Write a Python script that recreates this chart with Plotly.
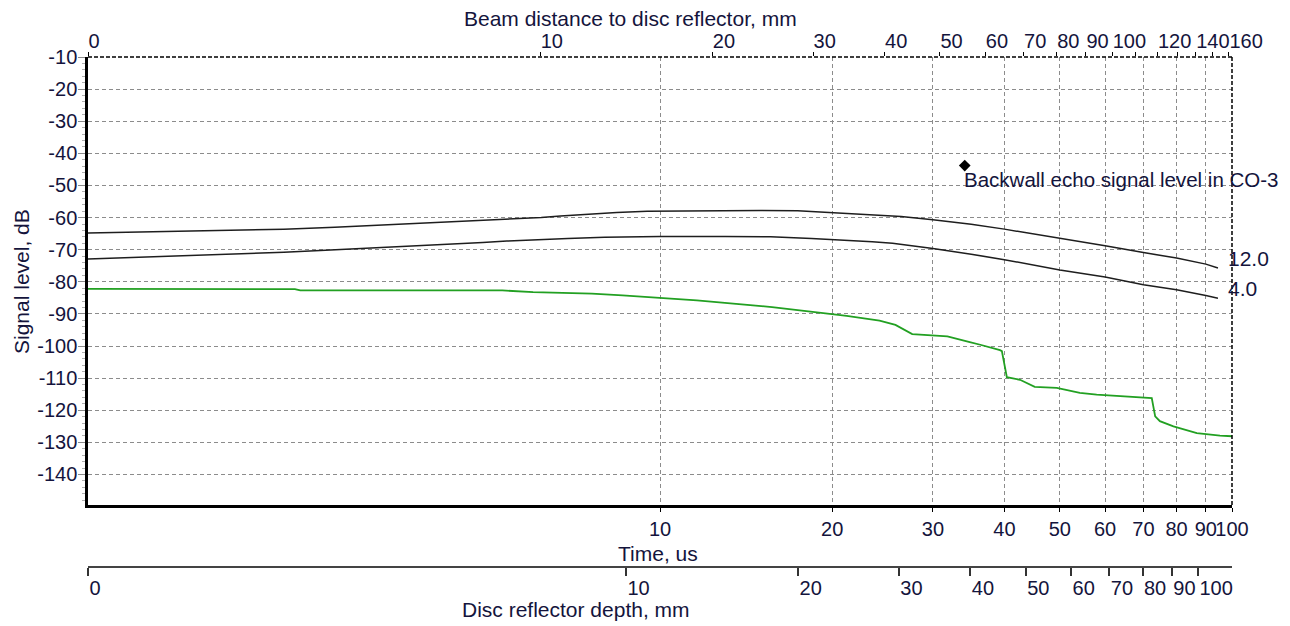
import math
import plotly.graph_objects as go

# ---------------- data ----------------
# Curve for disc reflector 12.0 mm : time (us) vs signal level (dB)
TIME_12 = [1.0, 1.6, 2.2, 2.7, 3.2, 3.7, 4.2, 4.8, 5.5, 6.2, 6.7, 7.5, 8.4, 9.5,
           12.0, 15.0, 17.4, 19.8, 23.5, 26.4, 30.0, 35.0, 40.0, 50.0, 60.0,
           70.0, 80.0, 90.0, 94.5]
DB_12 = [-64.8, -64.2, -63.6, -63.0, -62.4, -61.9, -61.4, -60.9, -60.6, -60.0,
         -59.5, -58.9, -58.4, -58.0, -57.8, -57.8, -57.9, -58.4, -59.1, -59.7,
         -60.7, -62.1, -63.6, -66.4, -68.8, -70.9, -72.6, -74.5, -75.7]

# Curve for disc reflector 4.0 mm
TIME_4 = [1.0, 1.2, 1.5, 1.9, 2.2, 2.6, 3.0, 3.4, 3.9, 4.4, 4.9, 5.4, 6.0, 6.9,
          8.0, 10.0, 13.0, 15.6, 18.4, 21.5, 23.5, 25.5, 28.0, 30.0, 35.0,
          40.0, 50.0, 60.0, 70.0, 80.0, 90.0, 94.5]
DB_4 = [-72.9, -72.4, -71.9, -71.3, -70.8, -70.2, -69.7, -69.2, -68.8, -68.3,
        -67.8, -67.3, -66.9, -66.5, -66.1, -65.9, -65.9, -66.0, -66.5, -67.0,
        -67.5, -68.0, -68.9, -69.6, -71.4, -73.1, -76.3, -78.5, -80.9, -82.5,
        -84.3, -85.1]

# Green curve
TIME_G = [1.0, 2.3, 2.35, 5.3, 6.0, 7.6, 8.6, 9.7, 10.6, 11.6, 12.6, 13.6, 14.7,
          15.7, 16.7, 17.7, 18.7, 19.8, 21.2, 22.6, 24.2, 25.8, 26.8, 27.6,
          31.8, 33.0, 34.8, 36.3, 38.2, 39.3, 39.6, 40.4, 42.6, 43.8, 45.2,
          49.4, 54.2, 58.0, 63.7, 72.4, 73.4, 74.8, 79.0, 86.8, 95.3, 100.0]
DB_G = [-82.2, -82.3, -82.7, -82.7, -83.2, -83.7, -84.2, -84.7, -85.3, -85.8,
        -86.3, -86.8, -87.4, -87.9, -88.4, -89.0, -89.5, -90.0, -90.6, -91.3,
        -92.1, -93.4, -94.9, -96.3, -97.0, -97.8, -98.8, -99.6, -100.6, -101.3,
        -101.6, -109.7, -110.5, -111.5, -112.7, -113.0, -114.6, -115.1, -115.6,
        -116.2, -121.9, -123.4, -125.0, -127.1, -127.9, -128.1]

SERIES_LABELS = ["12.0", "4.0"]

# Backwall echo point
BACKWALL_TIME = [34.1]
BACKWALL_DB = [-43.8]
BACKWALL_TEXT = "Backwall echo signal level in CO-3"

# Axis scales / ticks
T_MIN, T_MAX = 1.0, 100.0
BEAM_PER_US = 1.62      # beam distance (mm) per us of time
DEPTH_PER_US = 1.147    # reflector depth (mm) per us of time
TIME_TICKS = [10, 20, 30, 40, 50, 60, 70, 80, 90, 100]
BEAM_TICKS = [10, 20, 30, 40, 50, 60, 70, 80, 90, 100, 120, 140, 160]
BEAM_MINOR = [110, 130, 150]
DEPTH_TICKS = [10, 20, 30, 40, 50, 60, 70, 80, 90, 100]
Y_TICKS = [-10, -20, -30, -40, -50, -60, -70, -80, -90, -100, -110, -120, -130, -140]
Y_RANGE = [-149.5, -10]

# ---------------- styling ----------------
FONT = "Liberation Sans, Arial, sans-serif"
TXT = "#14143c"
TICK_SIZE = 20
TITLE_SIZE = 21
GRID = "#8c8c8c"

# page body has an 8px margin: the figure is sized so that it fits the window
BODY = 8
W, H = 1274, 618
ML, MR, MT, MB = 80, 50, 49, 59
PLOT_W = W - ML - MR          # 1144
PLOT_H = H - MT - MB          # 510
Y_DOM0 = 62 / PLOT_H

fig = go.Figure()

fig.add_trace(go.Scatter(x=TIME_12, y=DB_12, mode="lines", name=SERIES_LABELS[0],
                         line=dict(color="#1e1e1e", width=1.5)))
fig.add_trace(go.Scatter(x=TIME_4, y=DB_4, mode="lines", name=SERIES_LABELS[1],
                         line=dict(color="#1e1e1e", width=1.5)))
fig.add_trace(go.Scatter(x=TIME_G, y=DB_G, mode="lines", name="green",
                         line=dict(color="#22a022", width=1.8)))
fig.add_trace(go.Scatter(x=BACKWALL_TIME, y=BACKWALL_DB, mode="markers",
                         name="backwall",
                         marker=dict(symbol="diamond", size=9, color="black")))
# invisible copies so that the secondary (beam distance / depth) axes are drawn
fig.add_trace(go.Scatter(x=[t * BEAM_PER_US for t in TIME_12], y=DB_12, xaxis="x2",
                         mode="lines", opacity=0, hoverinfo="skip", showlegend=False))
fig.add_trace(go.Scatter(x=[t * DEPTH_PER_US for t in TIME_12], y=DB_12, xaxis="x3",
                         mode="lines", opacity=0, hoverinfo="skip", showlegend=False))

fig.update_layout(
    width=W, height=H,
    margin=dict(l=ML, r=MR, t=MT, b=MB, autoexpand=False),
    paper_bgcolor="white", plot_bgcolor="white",
    showlegend=False,
    font=dict(family=FONT, size=TICK_SIZE, color=TXT),
    xaxis=dict(
        type="log", range=[math.log10(T_MIN), math.log10(T_MAX)], domain=[0, 1],
        anchor="y", side="bottom",
        tickmode="array", tickvals=TIME_TICKS, ticktext=[str(v) for v in TIME_TICKS],
        tickangle=0, ticks="outside", ticklen=4, tickcolor="black",
        showline=True, linecolor="black", linewidth=2.5,
        showgrid=True, gridcolor=GRID, griddash="4px,3px", gridwidth=1,
        zeroline=False, tickfont=dict(size=TICK_SIZE, color=TXT),
    ),
    xaxis2=dict(
        type="log",
        range=[math.log10(BEAM_PER_US * T_MIN), math.log10(BEAM_PER_US * T_MAX)],
        overlaying="x", anchor="y", side="top",
        tickmode="array",
        tickvals=[BEAM_PER_US * T_MIN * 1.0005] + BEAM_TICKS,
        ticktext=["0"] + [str(v) for v in BEAM_TICKS],
        ticklabelposition="outside right",
        tickangle=0, ticks="outside", ticklen=4, tickcolor="black",
        minor=dict(tickmode="array", tickvals=BEAM_MINOR, ticks="outside",
                   ticklen=4, tickcolor="black", showgrid=False),
        showline=False, showgrid=False, zeroline=False,
        tickfont=dict(size=TICK_SIZE, color=TXT),
    ),
    xaxis3=dict(
        type="log",
        range=[math.log10(DEPTH_PER_US * T_MIN), math.log10(DEPTH_PER_US * T_MAX)],
        overlaying="x", anchor="free", position=0, side="bottom",
        tickmode="array",
        tickvals=[DEPTH_PER_US * T_MIN * 1.0005] + DEPTH_TICKS,
        ticktext=["0"] + [str(v) for v in DEPTH_TICKS],
        ticklabelposition="outside right", ticklabelstandoff=3,
        tickangle=0, ticks="outside", ticklen=8, tickcolor="#333333", tickwidth=1.5,
        showline=True, linecolor="#444444", linewidth=1.5,
        showgrid=False, zeroline=False,
        tickfont=dict(size=TICK_SIZE, color=TXT),
    ),
    yaxis=dict(
        range=Y_RANGE, domain=[Y_DOM0, 1], anchor="x",
        tickmode="array", tickvals=Y_TICKS, ticktext=[str(v) for v in Y_TICKS],
        ticks="outside", ticklen=7, tickcolor="#8a8a8a", ticklabelstandoff=-3,
        minor=dict(dtick=2, ticks="outside", ticklen=3, tickcolor="#b0b0b0",
                   showgrid=False),
        showline=True, linecolor="black", linewidth=2.5,
        showgrid=True, gridcolor=GRID, griddash="4px,3px", gridwidth=1,
        zeroline=False, tickfont=dict(size=TICK_SIZE, color=TXT),
    ),
)

# dashed black frame on top and right
fig.add_shape(type="line", xref="x domain", yref="y domain", x0=0, x1=1, y0=1, y1=1,
              line=dict(color="black", width=1.5, dash="4px,2px"))
fig.add_shape(type="line", xref="x domain", yref="y domain", x0=1, x1=1, y0=0, y1=1,
              line=dict(color="black", width=1.5, dash="4px,2px"))

# helpers: positions given in window pixels (body margin included)
def paper_x(px):
    return (px - BODY - ML) / PLOT_W

def paper_y(py):
    return (H - MB - (py - BODY)) / PLOT_H

title_font = dict(family=FONT, size=TITLE_SIZE, color=TXT)
fig.add_annotation(text="Beam distance to disc reflector, mm", xref="paper", yref="paper",
                   x=paper_x(630), y=paper_y(18), showarrow=False, font=title_font,
                   xanchor="center", yanchor="middle")
fig.add_annotation(text="Time, us", xref="paper", yref="paper",
                   x=paper_x(658), y=paper_y(553), showarrow=False, font=title_font,
                   xanchor="center", yanchor="middle")
fig.add_annotation(text="Disc reflector depth, mm", xref="paper", yref="paper",
                   x=paper_x(576), y=paper_y(609), showarrow=False, font=title_font,
                   xanchor="center", yanchor="middle")
fig.add_annotation(text="Signal level, dB", xref="paper", yref="paper",
                   x=paper_x(21), y=paper_y(282), showarrow=False, font=title_font,
                   textangle=-90, xanchor="center", yanchor="middle")

# point label
fig.add_annotation(text=BACKWALL_TEXT, xref="x", yref="y",
                   x=math.log10(BACKWALL_TIME[0]), y=BACKWALL_DB[0],
                   showarrow=False, font=dict(family=FONT, size=20.5, color=TXT),
                   xanchor="left", yanchor="top", xshift=-3, yshift=0)

# curve end labels
for tx, dy, lab in [(TIME_12, DB_12, SERIES_LABELS[0]), (TIME_4, DB_4, SERIES_LABELS[1])]:
    fig.add_annotation(text=lab, xref="x", yref="y", x=math.log10(tx[-1]), y=dy[-1],
                       showarrow=False, font=title_font, xanchor="left",
                       yanchor="bottom", xshift=8, yshift=-4)

fig.write_html("out.html")
